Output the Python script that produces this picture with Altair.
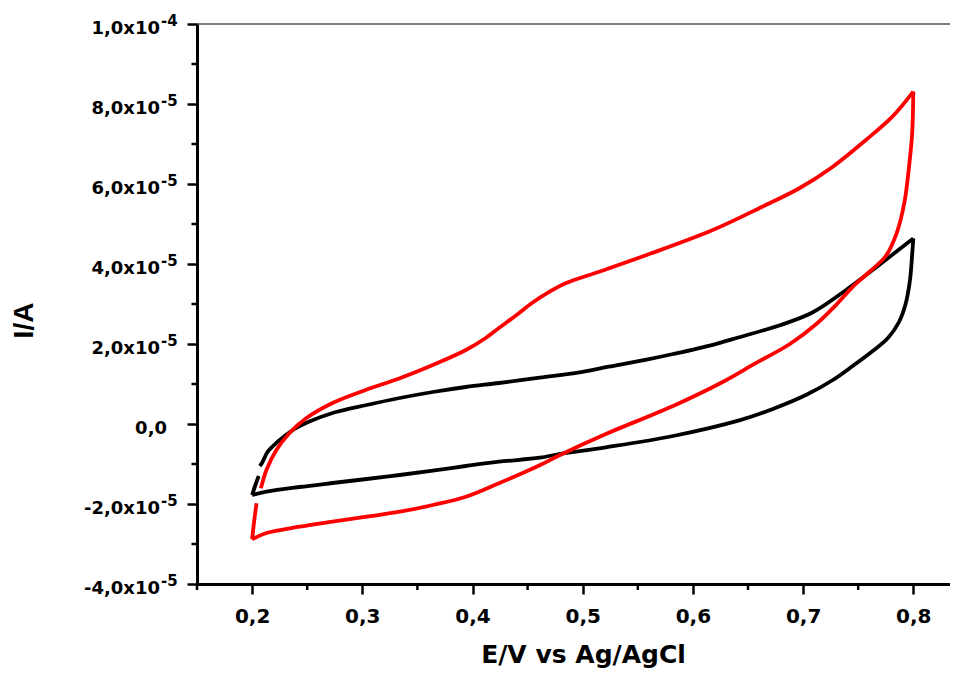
import altair as alt
import pandas as pd

# Cyclic voltammograms, current in units of 1e-5 A, split into drawn segments
BLACK_START_E = [0.200, 0.203, 0.206]
BLACK_START_I = [-1.775, -1.525, -1.30]
BLACK_UP_E = [0.207, 0.209, 0.214, 0.219, 0.225, 0.237, 0.252, 0.273, 0.304, 0.334, 0.364,
              0.394, 0.424, 0.461, 0.497, 0.521, 0.558, 0.582, 0.618, 0.642, 0.679, 0.708, 0.739, 0.769, 0.800]
BLACK_UP_I = [-1.05, -0.975, -0.70, -0.55, -0.40, -0.15, 0.06, 0.275, 0.475, 0.65, 0.80,
              0.925, 1.025, 1.16, 1.29, 1.42, 1.61, 1.75, 1.98, 2.17, 2.47, 2.78, 3.35, 3.975, 4.64]
BLACK_DOWN_E = [0.800, 0.799, 0.797, 0.793, 0.787, 0.777, 0.762, 0.745, 0.727, 0.703, 0.672, 0.642,
                0.582, 0.521, 0.479, 0.461, 0.424, 0.394, 0.364, 0.334, 0.304, 0.273, 0.243, 0.213, 0.200]
BLACK_DOWN_I = [4.64, 4.25, 3.60, 3.00, 2.55, 2.15, 1.80, 1.45, 1.10, 0.73, 0.37, 0.09,
                -0.30, -0.583, -0.75, -0.843, -0.943, -1.05, -1.168, -1.275, -1.375, -1.475, -1.575, -1.693, -1.775]

RED_UP_E = [0.208, 0.213, 0.222, 0.234, 0.249, 0.273, 0.303, 0.334, 0.364, 0.394, 0.412, 0.424, 0.440,
            0.454, 0.470, 0.485, 0.515, 0.558, 0.618, 0.663, 0.697, 0.727, 0.757, 0.781, 0.800]
RED_UP_I = [-1.608, -1.15, -0.65, -0.225, 0.143, 0.525, 0.85, 1.143, 1.475, 1.85, 2.15, 2.40, 2.725,
            3.025, 3.308, 3.525, 3.808, 4.225, 4.85, 5.433, 5.90, 6.433, 7.10, 7.683, 8.31]
RED_DOWN_E = [0.800, 0.799, 0.796, 0.792, 0.785, 0.775, 0.760, 0.745, 0.730, 0.712, 0.688, 0.657, 0.627,
              0.582, 0.521, 0.479, 0.461, 0.424, 0.394, 0.364, 0.334, 0.304, 0.273, 0.243, 0.213, 0.200]
RED_DOWN_I = [8.31, 7.28, 6.40, 5.55, 4.78, 4.20, 3.80, 3.43, 2.98, 2.50, 2.00, 1.52, 1.05,
              0.45, -0.25, -0.78, -1.03, -1.48, -1.818, -2.025, -2.193, -2.318, -2.443, -2.568, -2.725, -2.883]
RED_TAIL_E = [0.200, 0.202, 0.204]
RED_TAIL_I = [-2.883, -2.40, -1.983]

X_TICKS = [0.2, 0.3, 0.4, 0.5, 0.6, 0.7, 0.8]
X_MINOR = [0.15, 0.25, 0.35, 0.45, 0.55, 0.65, 0.75]
Y_TICKS = [-4, -2, 2, 4, 6, 8, 10]
Y_BASE = ["-4,0x10", "-2,0x10", "2,0x10", "4,0x10", "6,0x10", "8,0x10", "1,0x10"]
Y_SUP = ["-5", "-5", "-5", "-5", "-5", "-5", "-4"]
Y_ZERO = [0]
Y_ZERO_LABEL = ["0,0"]
Y_MINOR = [-3, -1, 1, 3, 5, 7, 9]

W, H = 753, 560
xs = alt.Scale(domain=[0.15, 0.15 + W / 1102], nice=False, zero=False)
ys = alt.Scale(domain=[-4, 10], nice=False, zero=False)

segments = [
    ("black", "b0", BLACK_START_E, BLACK_START_I),
    ("black", "b1", BLACK_UP_E, BLACK_UP_I),
    ("black", "b2", BLACK_DOWN_E, BLACK_DOWN_I),
    ("red", "r0", RED_UP_E, RED_UP_I),
    ("red", "r1", RED_DOWN_E, RED_DOWN_I),
    ("red", "r2", RED_TAIL_E, RED_TAIL_I),
]
rows = []
for series, seg, es, vs in segments:
    for i, (e, v) in enumerate(zip(es, vs)):
        rows.append({"E": e, "I": v, "series": series, "seg": seg, "idx": i})
df = pd.DataFrame(rows)

FONT = "DejaVu Sans"

lines = alt.Chart(df).mark_line(strokeWidth=3.8, strokeJoin="round", strokeCap="butt",
                                interpolate="catmull-rom").encode(
    x=alt.X("E:Q", scale=xs, axis=alt.Axis(
        values=X_TICKS, title="E/V vs Ag/AgCl", grid=False,
        labelExpr="replace(format(datum.value, '.1f'), '.', ',')",
        labelFont=FONT, labelFontWeight="bold", labelFontSize=20, labelColor="black",
        labelBaseline="alphabetic", labelPadding=28, labelFlush=False, labelOverlap=False,
        tickSize=10, tickWidth=2.5, tickColor="black", domainColor="black", domainWidth=3,
        titleFont=FONT, titleFontSize=25, titleFontWeight="bold", titleColor="black",
        titleX=386, titleY=78, titleAlign="center", titleBaseline="alphabetic")),
    y=alt.Y("I:Q", scale=ys, axis=alt.Axis(
        values=[-4, -2, 0, 2, 4, 6, 8, 10], labels=False, grid=False, title="I/A",
        tickSize=10, tickWidth=2.5, tickColor="black", domainColor="black", domainWidth=3,
        titleFont="Liberation Sans", titleFontSize=28, titleFontWeight="bold", titleColor="black",
        titleAngle=270, titleX=-173, titleY=296, titleAlign="center", titleBaseline="middle")),
    color=alt.Color("series:N", scale=alt.Scale(domain=["black", "red"], range=["#000000", "#ff0000"]),
                    legend=None),
    detail="seg:N",
    order=alt.Order("idx:Q"),
)

ymin_df = pd.DataFrame({"I": Y_MINOR})
y_minor = alt.Chart(ymin_df).mark_rule(strokeWidth=2.5, color="black").encode(
    y=alt.Y("I:Q", scale=ys), x=alt.value(-5.5), x2=alt.value(0))

xmin_df = pd.DataFrame({"E": X_MINOR})
x_minor = alt.Chart(xmin_df).mark_rule(strokeWidth=2.5, color="black").encode(
    x=alt.X("E:Q", scale=xs), y=alt.value(H), y2=alt.value(H + 6))

top_frame = alt.Chart(pd.DataFrame({"I": [10]})).mark_rule(strokeWidth=1.2, color="black").encode(
    y=alt.value(0), x=alt.value(0), x2=alt.value(W))

lab_df = pd.DataFrame({"I": Y_TICKS, "base": Y_BASE, "sup": Y_SUP})
base_text = alt.Chart(lab_df).mark_text(
    align="right", baseline="alphabetic", dy=10, font=FONT, fontWeight="bold", fontSize=18, color="black"
).encode(y=alt.Y("I:Q", scale=ys), x=alt.value(-37), text="base:N")
sup_text = alt.Chart(lab_df).mark_text(
    align="left", baseline="alphabetic", dy=2, font=FONT, fontWeight="bold", fontSize=15, color="black"
).encode(y=alt.Y("I:Q", scale=ys), x=alt.value(-36), text="sup:N")
zero_df = pd.DataFrame({"I": Y_ZERO, "base": Y_ZERO_LABEL})
zero_text = alt.Chart(zero_df).mark_text(
    align="right", baseline="alphabetic", dy=10, font=FONT, fontWeight="bold", fontSize=18, color="black"
).encode(y=alt.Y("I:Q", scale=ys), x=alt.value(-30), text="base:N")

chart = alt.layer(lines, y_minor, x_minor, top_frame, base_text, sup_text, zero_text).properties(
    width=W, height=H,
    autosize=alt.AutoSizeParams(type="none"),
    padding={"left": 189, "top": 16, "right": 0, "bottom": 85},
    background="white",
).configure_view(stroke=None)

chart.save("out.html", embed_options={"renderer": "svg", "actions": False})
